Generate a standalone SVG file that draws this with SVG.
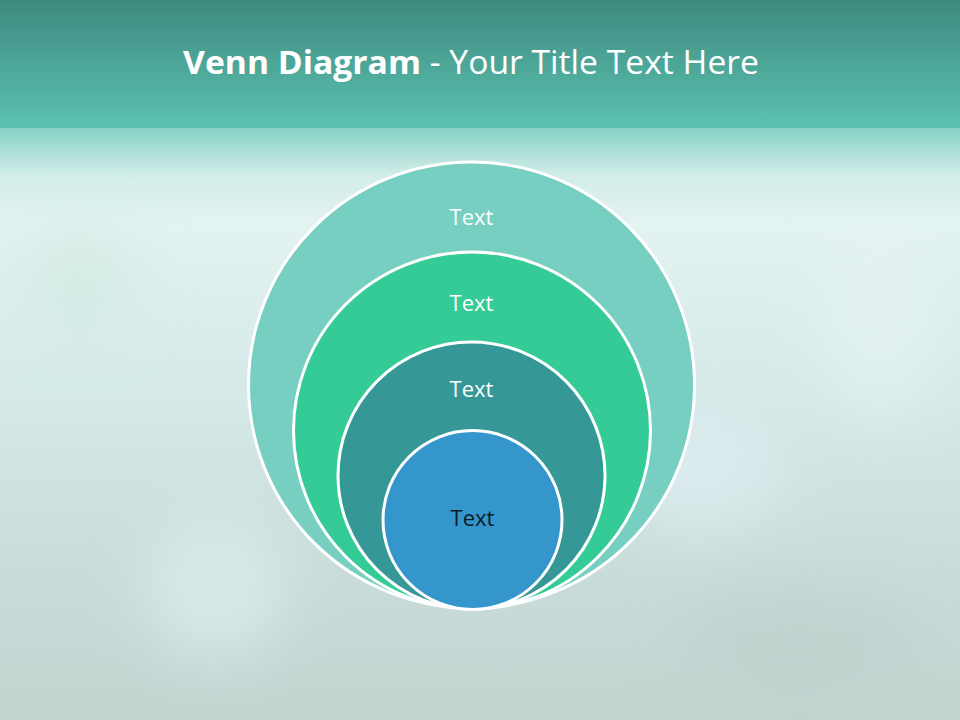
<svg xmlns="http://www.w3.org/2000/svg" width="960" height="720" viewBox="0 0 960 720">
  <defs>
    <linearGradient id="band" x1="0" y1="0" x2="0" y2="1">
      <stop offset="0" stop-color="#3e8a7f"/>
      <stop offset="1" stop-color="#5bc2b1"/>
    </linearGradient>
    <linearGradient id="bg" x1="0" y1="0" x2="0" y2="1">
      <stop offset="0" stop-color="#86d2c4"/>
      <stop offset="0.08" stop-color="#d2ede9"/>
      <stop offset="0.16" stop-color="#e3f3f1"/>
      <stop offset="0.45" stop-color="#d4e9e8"/>
      <stop offset="0.75" stop-color="#c9dcda"/>
      <stop offset="1" stop-color="#c2d4cf"/>
    </linearGradient>
    <filter id="blur" x="-50%" y="-50%" width="200%" height="200%">
      <feGaussianBlur stdDeviation="30"/>
    </filter>
    <style>
      .ring { stroke: #ffffff; stroke-width: 3; }
      .lbl { font-family: "Open Sans", "Liberation Sans", sans-serif; font-size: 22px; text-anchor: middle; fill: #ffffff; }
    </style>
  </defs>

  <!-- background -->
  <rect x="0" y="128" width="960" height="592" fill="url(#bg)"/>
  <g filter="url(#blur)" opacity="0.6">
    <ellipse cx="215" cy="590" rx="70" ry="70" fill="#e2f1f3"/>
    <ellipse cx="700" cy="470" rx="80" ry="60" fill="#e4f0f5"/>
    <ellipse cx="880" cy="330" rx="60" ry="90" fill="#e8f5f3"/>
    <ellipse cx="80" cy="280" rx="60" ry="50" fill="#cfe8df"/>
    <ellipse cx="800" cy="640" rx="120" ry="50" fill="#bccfca"/>
  </g>
  <rect x="0" y="0" width="960" height="128" fill="url(#band)"/>

  <!-- title -->
  <text x="183" y="74" textLength="576" lengthAdjust="spacingAndGlyphs" font-family="Open Sans, Liberation Sans, sans-serif" font-size="32" fill="#ffffff"><tspan font-weight="bold">Venn Diagram</tspan> - Your Title Text Here</text>

  <!-- nested circles -->
  <g id="circle-outer">
    <circle class="ring" cx="471.5" cy="385" r="223" fill="#76cfc0"/>
    <text class="lbl" x="471.5" y="225">Text</text>
  </g>
  <g id="circle-second">
    <circle class="ring" cx="472" cy="430.5" r="178.5" fill="#35cb96"/>
    <text class="lbl" x="471.5" y="311">Text</text>
  </g>
  <g id="circle-third">
    <circle class="ring" cx="471.5" cy="475.5" r="133.5" fill="#359896"/>
    <text class="lbl" x="471.5" y="397">Text</text>
  </g>
  <g id="circle-inner">
    <circle class="ring" cx="472.5" cy="520" r="89.5" fill="#3596cc"/>
    <text class="lbl" x="472.5" y="526" fill="#0a1a22" style="fill:#0a1a22">Text</text>
  </g>
  <g id="connectors"></g>
</svg>
